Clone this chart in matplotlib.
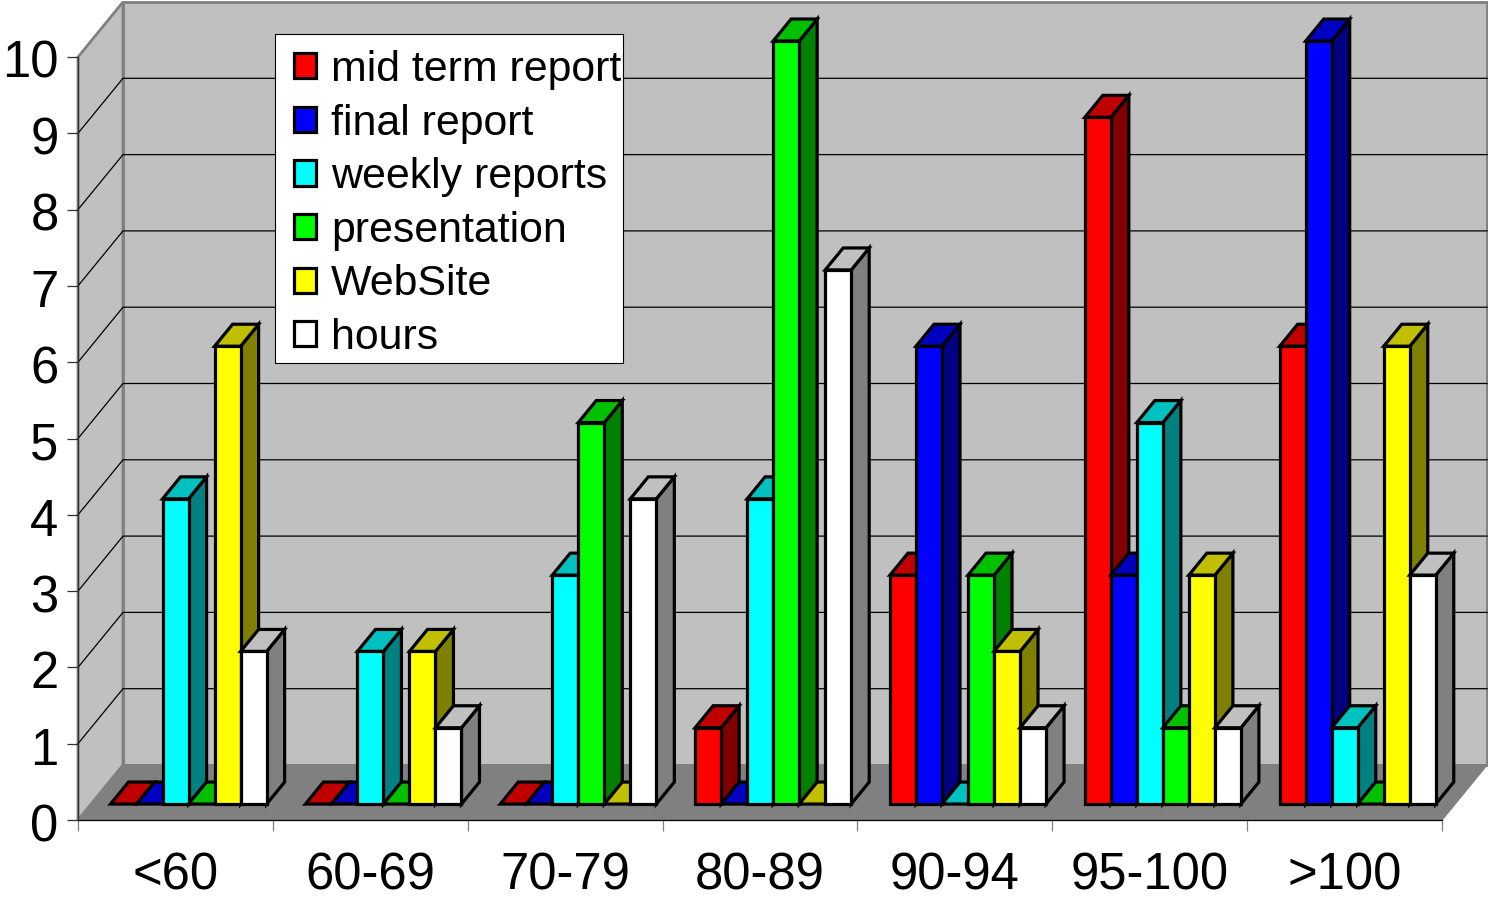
import matplotlib
matplotlib.use('Agg')
import matplotlib.pyplot as plt
from matplotlib.patches import Polygon, Patch, Rectangle
from matplotlib.transforms import ScaledTranslation

plt.rcParams['font.family'] = ['Liberation Sans', 'DejaVu Sans']

kategorije = ['<60', '60-69', '70-79', '80-89', '90-94', '95-100', '>100']
serije = ['mid term report', 'final report', 'weekly reports', 'presentation', 'WebSite', 'hours']
mid_term = [0, 0, 0, 1, 3, 9, 6]
final_report = [0, 0, 0, 0, 6, 3, 10]
weekly = [4, 2, 3, 4, 0, 5, 1]
presentation = [0, 0, 5, 10, 3, 1, 0]
website = [6, 2, 0, 0, 2, 3, 6]
hours = [2, 1, 4, 7, 1, 1, 3]
vrijednosti = [mid_term, final_report, weekly, presentation, website, hours]

boje = ['#FF0000', '#0000FF', '#00FFFF', '#00FF00', '#FFFF00', '#FFFFFF']
vrh = ['#C00000', '#0000C0', '#00C0C0', '#00C000', '#C0C000', '#C0C0C0']
strana = ['#800000', '#000080', '#008080', '#008000', '#808000', '#808080']

# pomak dubine u jedinicama osi
DX = 45 / 194.86
DY = 55 / 76.3
D1 = 0.29
D2 = 0.69
SIRINA = 0.1335
RUB = 0.1
LW = 2.3


def tocka(x, y, d):
    return (x + d * DX, y + d * DY)


def ploha(ax, tocke, boja, rub, lw, z):
    p = Polygon(tocke, closed=True, facecolor=boja, edgecolor=rub, linewidth=lw,
                joinstyle='miter', clip_on=False, zorder=z)
    ax.add_patch(p)


W, H = 1488, 900
fig = plt.figure(figsize=(W / 100, H / 100), dpi=100)
ax = fig.add_axes([78 / W, 1 - 820 / H, (1442 - 78) / W, (820 - 57) / H])
ax.set_xlim(0, 7)
ax.set_ylim(0, 10)
ax.patch.set_visible(False)

# zidovi i pod
siva = '#C0C0C0'
tamna = '#808080'
ploha(ax, [tocka(0, 0, 1), tocka(7, 0, 1), tocka(7, 10, 1), tocka(0, 10, 1)], siva, tamna, 2, 0.5)
ploha(ax, [tocka(0, 0, 0), tocka(0, 0, 1), tocka(0, 10, 1), tocka(0, 10, 0)], siva, tamna, 2, 0.6)
ploha(ax, [tocka(0, 0, 0), tocka(7, 0, 0), tocka(7, 0, 1), tocka(0, 0, 1)], tamna, tamna, 1, 0.7)

for v in range(1, 10):
    a = tocka(0, v, 0)
    b = tocka(0, v, 1)
    c = tocka(7, v, 1)
    ax.plot([a[0], b[0], c[0]], [a[1], b[1], c[1]], color='black', lw=0.9, clip_on=False, zorder=0.8)

# stupci
z = 1
for i in range(len(kategorije)):
    for s in range(len(serije)):
        v = vrijednosti[s][i]
        x1 = i + RUB + s * SIRINA
        x2 = x1 + SIRINA
        if v > 0:
            ploha(ax, [tocka(x2, 0, D1), tocka(x2, 0, D2), tocka(x2, v, D2), tocka(x2, v, D1)],
                  strana[s], 'black', LW, z)
        ploha(ax, [tocka(x1, v, D1), tocka(x2, v, D1), tocka(x2, v, D2), tocka(x1, v, D2)],
              vrh[s], 'black', LW, z)
        if v > 0:
            ploha(ax, [tocka(x1, 0, D1), tocka(x2, 0, D1), tocka(x2, v, D1), tocka(x1, v, D1)],
                  boje[s], 'black', LW, z)
        z += 0.01

# osi
for k in ['top', 'right']:
    ax.spines[k].set_visible(False)
ax.spines['left'].set_color('#303030')
ax.spines['left'].set_linewidth(0.9)
ax.spines['bottom'].set_color('black')
ax.spines['bottom'].set_linewidth(0.9)

ax.set_yticks(range(11))
ax.tick_params(axis='y', length=8, width=0.9, color='#303030', labelsize=36.5, pad=6)
pomak = ScaledTranslation(0, -2 / 100, fig.dpi_scale_trans)
for t in ax.get_yticklabels():
    t.set_transform(t.get_transform() + pomak)
ax.set_xticks(range(8))
ax.set_xticklabels([])
ax.tick_params(axis='x', which='major', length=8, width=0.9, color=tamna)
ax.set_xticks([i + 0.5 for i in range(7)], minor=True)
ax.set_xticklabels(kategorije, minor=True)
ax.tick_params(axis='x', which='minor', length=0, labelsize=36.5, pad=22.5)

# legenda, okvir posebno jer je desni rub uzi od lijevog
okvir = Rectangle((275 / W, 1 - 363 / H), 348 / W, 329 / H, transform=fig.transFigure,
                  facecolor='white', edgecolor='black', linewidth=0.8, zorder=49, clip_on=False)
ax.add_patch(okvir)
rucke = [Patch(facecolor=boje[s], edgecolor='black', linewidth=LW) for s in range(len(serije))]
leg = ax.legend(rucke, serije, loc='upper left', bbox_to_anchor=(293.5 / W, 1 - 50 / H),
                bbox_transform=fig.transFigure, borderaxespad=0, fontsize=30.9, frameon=False,
                handlelength=0.53, handleheight=0.53, handletextpad=0.34,
                labelspacing=0.317, borderpad=0)
leg.set_zorder(50)

fig.savefig('out.png', dpi=100, facecolor='white')
